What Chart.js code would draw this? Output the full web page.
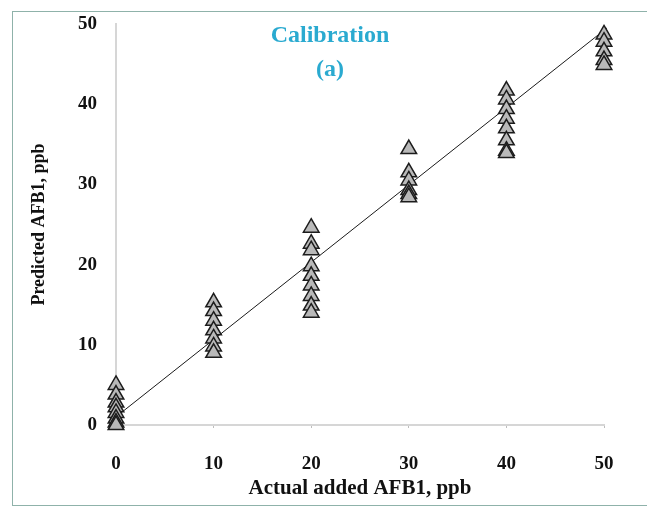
<!DOCTYPE html>
<html>
<head>
<meta charset="utf-8">
<script src="https://cdn.jsdelivr.net/npm/chart.js@4/dist/chart.umd.min.js"></script>
<style>
  html, body { margin: 0; padding: 0; background: #fff; }
  #wrap { position: relative; width: 647px; height: 509px; overflow: hidden; }
  #frame {
    position: absolute; left: 12px; top: 11px; width: 700px; height: 495px;
    border: 1px solid #8fb2aa; box-sizing: border-box;
  }
  #plot { position: absolute; left: 0; top: 0; width: 647px; height: 509px; }
</style>
</head>
<body>
<div id="wrap">
  <div id="frame"></div>
  <div id="plot"><canvas id="calib" width="647" height="509"></canvas></div>
</div>
<script>
// spiked AFB1 levels (ppb) and the predicted values at each level
const actualLevels = [0, 10, 20, 30, 40, 50];
const predAt0  = [5.0, 3.8, 2.8, 2.2, 1.5, 0.8, 0.3, 0.0];
const predAt10 = [15.3, 14.2, 13.0, 11.8, 10.8, 9.8, 9.0];
const predAt20 = [24.6, 22.6, 21.8, 19.8, 18.6, 17.4, 16.1, 14.9, 14.0];
const predAt30 = [34.4, 31.5, 30.5, 29.3, 28.8, 28.4];
const predAt40 = [41.7, 40.6, 39.4, 38.2, 37.0, 35.5, 34.2, 33.9];
const predAt50 = [48.7, 47.8, 46.6, 45.5, 44.9];
const predicted = [predAt0, predAt10, predAt20, predAt30, predAt40, predAt50];

// fitted calibration line end points
const fitX = [0.5, 50.3];
const fitY = [1.5, 49.5];

const xTicks = [0, 10, 20, 30, 40, 50];
const yTicks = [0, 10, 20, 30, 40, 50];

const scatterPoints = [];
actualLevels.forEach((lvl, i) => {
    predicted[i].forEach((v) => scatterPoints.push({ x: lvl, y: v }));
});

const serif = "'Liberation Serif', 'DejaVu Serif', serif";

// title text sits inside the plot area
const titlePlugin = {
    id: "insideTitle",
    afterDraw(chart) {
        const ctx = chart.ctx;
        ctx.save();
        ctx.fillStyle = "#2aaad0";
        ctx.font = "bold 24px " + serif;
        ctx.textAlign = "center";
        ctx.textBaseline = "middle";
        ctx.fillText("Calibration", 330, 36);
        ctx.fillText("(a)", 330, 70);
        ctx.restore();
    },
};

new Chart(document.getElementById("calib"), {
    type: "scatter",
    data: {
        datasets: [
            {
                type: "line",
                data: fitX.map((x, i) => ({ x: x, y: fitY[i] })),
                borderColor: "#1a1a1a",
                borderWidth: 1,
                pointRadius: 0,
                clip: false,
                order: 2,
            },
            {
                data: scatterPoints,
                pointStyle: "triangle",
                pointRadius: 9,
                backgroundColor: "#b9b9b9",
                borderColor: "#1c1c1c",
                borderWidth: 1.5,
                clip: false,
                order: 1,
            },
        ],
    },
    options: {
        responsive: false,
        animation: false,
        layout: { padding: { left: 25, right: 43, top: 24, bottom: 4 } },
        plugins: { legend: { display: false }, tooltip: { enabled: false } },
        scales: {
            x: {
                type: "linear",
                min: 0,
                max: 50,
                afterBuildTicks: (s) => { s.ticks = xTicks.map((v) => ({ value: v })); },
                afterFit: (s) => { s.height = 80; },
                grid: { display: true, drawOnChartArea: false, tickLength: 3, color: "#bdbdbd" },
                border: { display: true, color: "#d6d6d6", width: 2 },
                ticks: { color: "#111", padding: 25, font: { family: serif, size: 19, weight: "bold" } },
                title: {
                    display: true,
                    text: "Actual added AFB1, ppb",
                    color: "#111",
                    font: { family: serif, size: 21, weight: "bold" },
                    padding: { top: 4, bottom: 4 },
                },
            },
            y: {
                type: "linear",
                min: 0,
                max: 50,
                afterBuildTicks: (s) => { s.ticks = yTicks.map((v) => ({ value: v })); },
                afterFit: (s) => { s.width = 91; },
                grid: { display: false },
                border: { display: true, color: "#d6d6d6", width: 2 },
                ticks: { color: "#111", padding: 11, font: { family: serif, size: 19, weight: "bold" } },
                title: {
                    display: true,
                    text: "Predicted AFB1, ppb",
                    color: "#111",
                    font: { family: serif, size: 18, weight: "bold" },
                    padding: { top: 4, bottom: 4 },
                },
            },
        },
    },
    plugins: [titlePlugin],
});
</script>
</body>
</html>
